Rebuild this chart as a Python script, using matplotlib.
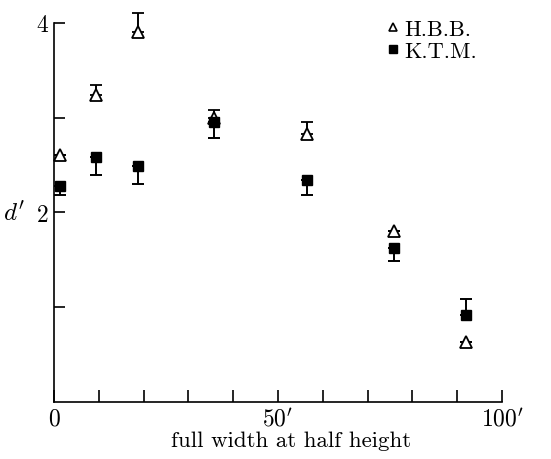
import matplotlib
matplotlib.use('Agg')
import matplotlib.pyplot as plt
from matplotlib.lines import Line2D
import numpy as np

plt.rcParams['font.family'] = ['cmr10', 'DejaVu Serif']
plt.rcParams['mathtext.fontset'] = 'cm'
plt.rcParams['axes.unicode_minus'] = False

# data
width = [1.3, 9.4, 18.7, 35.7, 56.5, 75.9, 92.0]
hbb = [2.61, 3.24, 3.90, 3.00, 2.83, 1.80, 0.63]
hbb_up = [0.0, 0.10, 0.20, 0.08, 0.12, 0.0, 0.0]
ktm = [2.28, 2.58, 2.49, 2.95, 2.34, 1.62, 0.92]
ktm_lo = [0.10, 0.19, 0.19, 0.16, 0.16, 0.13, 0.0]
ktm_up = [0.0, 0.0, 0.0, 0.0, 0.0, 0.0, 0.17]

fig = plt.figure(figsize=(5.51, 4.60), dpi=100)
ax = fig.add_axes([0.098, 0.124, 0.813, 0.824])

ax.errorbar(width, hbb, yerr=[np.zeros(len(hbb)), hbb_up], fmt='^', ms=8,
            mfc='white', mec='black', mew=1.3, ecolor='black', elinewidth=1.4,
            capsize=4, capthick=1.4, zorder=3, clip_on=False)
ax.errorbar(width, ktm, yerr=[ktm_lo, ktm_up], fmt='s', ms=7,
            mfc='black', mec='black', ecolor='black', elinewidth=1.4,
            capsize=4, capthick=1.4, zorder=4, clip_on=False)

ax.set_xlim(0, 100)
ax.set_ylim(0, 4)
ax.spines['top'].set_visible(False)
ax.spines['right'].set_visible(False)
ax.spines['left'].set_linewidth(1.2)
ax.spines['bottom'].set_linewidth(1.2)

ax.set_xticks(np.arange(0, 101, 10))
ax.set_xticklabels(['0', '', '', '', '', r'$50^\prime$', '', '', '', '', r'$100^\prime$'],
                   fontsize=17)
ax.set_yticks([1, 2, 3, 4])
ax.set_yticklabels(['', '2', '', '4'], fontsize=17)
ax.tick_params(direction='in', length=9, width=1.2, pad=4)
ax.tick_params(axis='y', length=8)

ax.text(-6.3, 2, r"$d'$", fontsize=18, ha='right', va='center')
ax.set_xlabel('full width at half height', fontsize=16.5, labelpad=3)
ax.xaxis.set_label_coords(0.53, -0.075)

handles = [Line2D([], [], marker='^', ls='none', ms=6, mfc='white', mec='black', mew=1.2),
           Line2D([], [], marker='s', ls='none', ms=6, mfc='black', mec='black')]
ax.legend(handles, ['H.B.B.', 'K.T.M.'], loc='upper left', bbox_to_anchor=(0.72, 1.038),
          frameon=False, fontsize=16, handlelength=0.5, handletextpad=0.25,
          labelspacing=0.1, borderpad=0)

fig.savefig('out.png', dpi=100)
